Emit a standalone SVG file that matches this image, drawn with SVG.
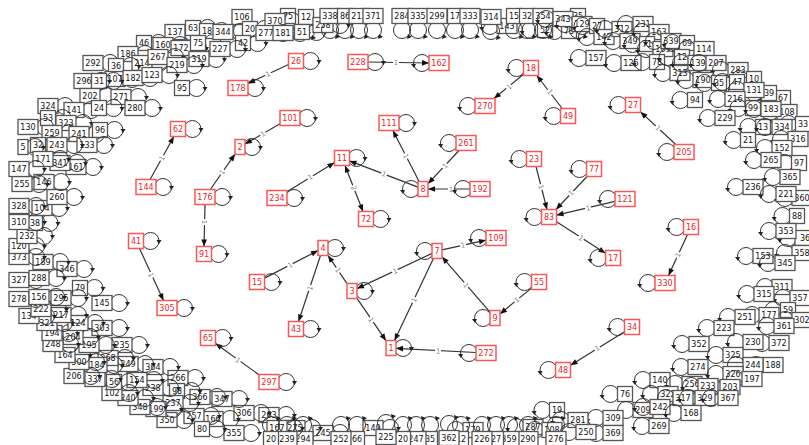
<svg xmlns="http://www.w3.org/2000/svg" xmlns:xlink="http://www.w3.org/1999/xlink" width="809" height="445" viewBox="0 0 809 445">
<style>
text{font-family:"DejaVu Sans","Liberation Sans",sans-serif;font-size:8px;text-anchor:middle}
.k rect{fill:#fff;stroke:#555;stroke-width:1.3}
.k text{fill:#111}
.r rect{fill:#fff;stroke:#f55;stroke-width:1.5}
.r text{fill:#e8262b}
.e line{stroke:#333;stroke-width:1.2;marker-end:url(#a)}
.lb rect{fill:#fff}
.lb text{fill:#7a8a9a;font-size:7px}
</style>
<defs>
<marker id="a" viewBox="0 0 10 10" refX="10" refY="5" markerWidth="8" markerHeight="7" markerUnits="userSpaceOnUse" orient="auto-start-reverse"><path d="M0,1 L10,5 L0,9z" fill="#111"/></marker>
<g id="R1"><circle cx="12" r="8.5" fill="none" stroke="#333"/><path d="M18,-1 L23,-1 L20.5,3z" fill="#222"/></g>
<g id="R2"><circle cx="14.5" r="8.5" fill="none" stroke="#333"/><path d="M20.5,-1 L25.5,-1 L23,3z" fill="#222"/></g>
<g id="R3"><circle cx="17" r="8.5" fill="none" stroke="#333"/><path d="M23,-1 L28,-1 L25.5,3z" fill="#222"/></g>
<g id="L1"><circle cx="-12" r="8.5" fill="none" stroke="#333"/><path d="M-18,1 L-23,1 L-20,5z" fill="#222"/></g>
<g id="L2"><circle cx="-14.5" r="8.5" fill="none" stroke="#333"/><path d="M-20.5,1 L-25.5,1 L-22.5,5z" fill="#222"/></g>
<g id="L3"><circle cx="-17" r="8.5" fill="none" stroke="#333"/><path d="M-23,1 L-28,1 L-25,5z" fill="#222"/></g>
<g id="D"><circle cy="14" r="8.5" fill="none" stroke="#333"/><path d="M6,18 L10,21 L5,23z" fill="#222"/></g>
<g id="U"><circle cy="-14" r="8.5" fill="none" stroke="#333"/><path d="M6,-18 L10,-21 L5,-23z" fill="#222"/></g>
</defs>

<g id="ring">
<g id="n137" class="k" transform="translate(175,32)"><use href="#R3"/><rect x="-10" y="-7.5" width="20" height="15"/><text y="3">137</text></g>
<g id="n63" class="k" transform="translate(193,28)"><use href="#R2"/><rect x="-7.5" y="-7.5" width="15" height="15"/><text y="3">63</text></g>
<g id="n18b" class="k" transform="translate(207,31)"><use href="#R2"/><rect x="-7.5" y="-7.5" width="15" height="15"/><text y="3">18</text></g>
<g id="n46" class="k" transform="translate(144,43)"><use href="#R2"/><rect x="-7.5" y="-7.5" width="15" height="15"/><text y="3">46</text></g>
<g id="n160" class="k" transform="translate(163,45)"><use href="#R3"/><rect x="-10" y="-7.5" width="20" height="15"/><text y="3">160</text></g>
<g id="n172" class="k" transform="translate(181,48)"><use href="#R3"/><rect x="-10" y="-7.5" width="20" height="15"/><text y="3">172</text></g>
<g id="n75" class="k" transform="translate(198,43)"><use href="#R2"/><rect x="-7.5" y="-7.5" width="15" height="15"/><text y="3">75</text></g>
<g id="n319" class="k" transform="translate(199,59)"><use href="#R3"/><rect x="-10" y="-7.5" width="20" height="15"/><text y="3">319</text></g>
<g id="n186" class="k" transform="translate(128,54)"><use href="#R3"/><rect x="-10" y="-7.5" width="20" height="15"/><text y="3">186</text></g>
<g id="n214" class="k" transform="translate(142,63)"><use href="#R3"/><rect x="-10" y="-7.5" width="20" height="15"/><text y="3">214</text></g>
<g id="n267" class="k" transform="translate(158,57)"><use href="#R3"/><rect x="-10" y="-7.5" width="20" height="15"/><text y="3">267</text></g>
<g id="n219" class="k" transform="translate(177,65)"><use href="#R3"/><rect x="-10" y="-7.5" width="20" height="15"/><text y="3">219</text></g>
<g id="n292" class="k" transform="translate(93,63)"><use href="#R3"/><rect x="-10" y="-7.5" width="20" height="15"/><text y="3">292</text></g>
<g id="n36" class="k" transform="translate(116,66)"><use href="#R2"/><rect x="-7.5" y="-7.5" width="15" height="15"/><text y="3">36</text></g>
<g id="n107" class="k" transform="translate(115,79)"><use href="#R3"/><rect x="-10" y="-7.5" width="20" height="15"/><text y="3">107</text></g>
<g id="n182" class="k" transform="translate(133,78)"><use href="#R3"/><rect x="-10" y="-7.5" width="20" height="15"/><text y="3">182</text></g>
<g id="n123" class="k" transform="translate(152,75)"><use href="#R3"/><rect x="-10" y="-7.5" width="20" height="15"/><text y="3">123</text></g>
<g id="n95" class="k" transform="translate(182,88)"><use href="#R2"/><rect x="-7.5" y="-7.5" width="15" height="15"/><text y="3">95</text></g>
<g id="n296" class="k" transform="translate(84,81)"><use href="#R3"/><rect x="-10" y="-7.5" width="20" height="15"/><text y="3">296</text></g>
<g id="n31" class="k" transform="translate(99,81)"><use href="#R2"/><rect x="-7.5" y="-7.5" width="15" height="15"/><text y="3">31</text></g>
<g id="n202" class="k" transform="translate(90,96)"><use href="#R3"/><rect x="-10" y="-7.5" width="20" height="15"/><text y="3">202</text></g>
<g id="n271" class="k" transform="translate(121,97)"><use href="#R3"/><rect x="-10" y="-7.5" width="20" height="15"/><text y="3">271</text></g>
<g id="n280" class="k" transform="translate(135,108)"><use href="#R3"/><rect x="-10" y="-7.5" width="20" height="15"/><text y="3">280</text></g>
<g id="n324" class="k" transform="translate(48,106)"><use href="#R3"/><rect x="-10" y="-7.5" width="20" height="15"/><text y="3">324</text></g>
<g id="n141" class="k" transform="translate(74,110)"><use href="#R3"/><rect x="-10" y="-7.5" width="20" height="15"/><text y="3">141</text></g>
<g id="n24" class="k" transform="translate(99,108)"><use href="#R2"/><rect x="-7.5" y="-7.5" width="15" height="15"/><text y="3">24</text></g>
<g id="n53" class="k" transform="translate(48,118)"><use href="#R2"/><rect x="-7.5" y="-7.5" width="15" height="15"/><text y="3">53</text></g>
<g id="n323" class="k" transform="translate(66,123)"><use href="#R3"/><rect x="-10" y="-7.5" width="20" height="15"/><text y="3">323</text></g>
<g id="n130" class="k" transform="translate(28,127)"><use href="#R3"/><rect x="-10" y="-7.5" width="20" height="15"/><text y="3">130</text></g>
<g id="n259" class="k" transform="translate(52,133)"><use href="#R3"/><rect x="-10" y="-7.5" width="20" height="15"/><text y="3">259</text></g>
<g id="n241" class="k" transform="translate(79,134)"><use href="#R3"/><rect x="-10" y="-7.5" width="20" height="15"/><text y="3">241</text></g>
<g id="n96" class="k" transform="translate(100,130)"><use href="#R2"/><rect x="-7.5" y="-7.5" width="15" height="15"/><text y="3">96</text></g>
<g id="n133" class="k" transform="translate(87,145)"><use href="#R3"/><rect x="-10" y="-7.5" width="20" height="15"/><text y="3">133</text></g>
<g id="n32" class="k" transform="translate(38,145)"><use href="#R2"/><rect x="-7.5" y="-7.5" width="15" height="15"/><text y="3">32</text></g>
<g id="n243" class="k" transform="translate(57,145)"><use href="#R3"/><rect x="-10" y="-7.5" width="20" height="15"/><text y="3">243</text></g>
<g id="n5" class="k" transform="translate(23,147)"><use href="#R1"/><rect x="-5" y="-7.5" width="10" height="15"/><text y="3">5</text></g>

<g id="n106" class="k" transform="translate(242,17)"><use href="#D"/><rect x="-10" y="-7.5" width="20" height="15"/><text y="3">106</text></g>
<g id="n344" class="k" transform="translate(223,32)"><use href="#R3"/><rect x="-10" y="-7.5" width="20" height="15"/><text y="3">344</text></g>
<g id="n20" class="k" transform="translate(250,29)"><use href="#R2"/><rect x="-7.5" y="-7.5" width="15" height="15"/><text y="3">20</text></g>
<g id="n42" class="k" transform="translate(243,43)"><use href="#R2"/><rect x="-7.5" y="-7.5" width="15" height="15"/><text y="3">42</text></g>
<g id="n227" class="k" transform="translate(220,49)"><use href="#R3"/><rect x="-10" y="-7.5" width="20" height="15"/><text y="3">227</text></g>
<g id="n75b" class="k" transform="translate(288,16)"><use href="#D"/><rect x="-7.5" y="-7.5" width="15" height="15"/><text y="3">75</text></g>
<g id="n370" class="k" transform="translate(275,21)"><use href="#R3"/><rect x="-10" y="-7.5" width="20" height="15"/><text y="3">370</text></g>
<g id="n277" class="k" transform="translate(266,33)"><use href="#R3"/><rect x="-10" y="-7.5" width="20" height="15"/><text y="3">277</text></g>
<g id="n181" class="k" transform="translate(283,33)"><use href="#R3"/><rect x="-10" y="-7.5" width="20" height="15"/><text y="3">181</text></g>
<g id="n12" class="k" transform="translate(306,17)"><use href="#D"/><rect x="-7.5" y="-7.5" width="15" height="15"/><text y="3">12</text></g>
<g id="n51" class="k" transform="translate(302,32)"><use href="#R2"/><rect x="-7.5" y="-7.5" width="15" height="15"/><text y="3">51</text></g>
<g id="n258" class="k" transform="translate(323,25)"><use href="#R3"/><rect x="-10" y="-7.5" width="20" height="15"/><text y="3">258</text></g>
<g id="n338" class="k" transform="translate(330,16)"><use href="#D"/><rect x="-10" y="-7.5" width="20" height="15"/><text y="3">338</text></g>
<g id="n86" class="k" transform="translate(345,16)"><use href="#D"/><rect x="-7.5" y="-7.5" width="15" height="15"/><text y="3">86</text></g>
<g id="n213" class="k" transform="translate(359,16)"><use href="#D"/><rect x="-10" y="-7.5" width="20" height="15"/><text y="3">213</text></g>
<g id="n371" class="k" transform="translate(373,16)"><use href="#D"/><rect x="-10" y="-7.5" width="20" height="15"/><text y="3">371</text></g>
<g id="n284" class="k" transform="translate(402,16)"><use href="#D"/><rect x="-10" y="-7.5" width="20" height="15"/><text y="3">284</text></g>
<g id="n335" class="k" transform="translate(418,16)"><use href="#D"/><rect x="-10" y="-7.5" width="20" height="15"/><text y="3">335</text></g>
<g id="n299" class="k" transform="translate(437,16)"><use href="#D"/><rect x="-10" y="-7.5" width="20" height="15"/><text y="3">299</text></g>
<g id="n17" class="k" transform="translate(455,16)"><use href="#D"/><rect x="-7.5" y="-7.5" width="15" height="15"/><text y="3">17</text></g>
<g id="n333" class="k" transform="translate(470,16)"><use href="#D"/><rect x="-10" y="-7.5" width="20" height="15"/><text y="3">333</text></g>
<g id="n143" class="k" transform="translate(507,26)"><use href="#L3"/><rect x="-10" y="-7.5" width="20" height="15"/><text y="3">143</text></g>
<g id="n314" class="k" transform="translate(491,17)"><use href="#D"/><rect x="-10" y="-7.5" width="20" height="15"/><text y="3">314</text></g>
<g id="n15b" class="k" transform="translate(514,16)"><use href="#D"/><rect x="-7.5" y="-7.5" width="15" height="15"/><text y="3">15</text></g>
<g id="n52" class="k" transform="translate(545,30)"><use href="#L2"/><rect x="-7.5" y="-7.5" width="15" height="15"/><text y="3">52</text></g>
<g id="n32b" class="k" transform="translate(527,16)"><use href="#D"/><rect x="-7.5" y="-7.5" width="15" height="15"/><text y="3">32</text></g>
<g id="n354" class="k" transform="translate(543,16)"><use href="#D"/><rect x="-10" y="-7.5" width="20" height="15"/><text y="3">354</text></g>
<g id="n73" class="k" transform="translate(569,31)"><use href="#L2"/><rect x="-7.5" y="-7.5" width="15" height="15"/><text y="3">73</text></g>
<g id="n35" class="k" transform="translate(578,16)"><use href="#D"/><rect x="-7.5" y="-7.5" width="15" height="15"/><text y="3">35</text></g>
<g id="n343" class="k" transform="translate(563,19)"><use href="#L3"/><rect x="-10" y="-7.5" width="20" height="15"/><text y="3">343</text></g>
<g id="n129" class="k" transform="translate(582,24)"><use href="#L3"/><rect x="-10" y="-7.5" width="20" height="15"/><text y="3">129</text></g>
<g id="n27b" class="k" transform="translate(597,26)"><use href="#L2"/><rect x="-7.5" y="-7.5" width="15" height="15"/><text y="3">27</text></g>
<g id="n142" class="k" transform="translate(604,37)"><use href="#L3"/><rect x="-10" y="-7.5" width="20" height="15"/><text y="3">142</text></g>
<g id="n157" class="k" transform="translate(596,58)"><use href="#L3"/><rect x="-10" y="-7.5" width="20" height="15"/><text y="3">157</text></g>

<g id="n312" class="k" transform="translate(622,29)"><use href="#L3"/><rect x="-10" y="-7.5" width="20" height="15"/><text y="3">312</text></g>
<g id="n231" class="k" transform="translate(643,24)"><use href="#L3"/><rect x="-10" y="-7.5" width="20" height="15"/><text y="3">231</text></g>
<g id="n349" class="k" transform="translate(630,41)"><use href="#L3"/><rect x="-10" y="-7.5" width="20" height="15"/><text y="3">349</text></g>
<g id="n163" class="k" transform="translate(659,32)"><use href="#L3"/><rect x="-10" y="-7.5" width="20" height="15"/><text y="3">163</text></g>
<g id="n71" class="k" transform="translate(647,44)"><use href="#L2"/><rect x="-7.5" y="-7.5" width="15" height="15"/><text y="3">71</text></g>
<g id="n126" class="k" transform="translate(631,63)"><use href="#L3"/><rect x="-10" y="-7.5" width="20" height="15"/><text y="3">126</text></g>
<g id="n109b" class="k" transform="translate(663,49)"><use href="#L3"/><rect x="-10" y="-7.5" width="20" height="15"/><text y="3">109</text></g>
<g id="n339" class="k" transform="translate(671,41)"><use href="#L3"/><rect x="-10" y="-7.5" width="20" height="15"/><text y="3">339</text></g>
<g id="n69" class="k" transform="translate(687,43)"><use href="#L2"/><rect x="-7.5" y="-7.5" width="15" height="15"/><text y="3">69</text></g>
<g id="n78" class="k" transform="translate(657,62)"><use href="#L2"/><rect x="-7.5" y="-7.5" width="15" height="15"/><text y="3">78</text></g>
<g id="n114" class="k" transform="translate(704,49)"><use href="#L3"/><rect x="-10" y="-7.5" width="20" height="15"/><text y="3">114</text></g>
<g id="n12b" class="k" transform="translate(682,57)"><use href="#L2"/><rect x="-7.5" y="-7.5" width="15" height="15"/><text y="3">12</text></g>
<g id="n313" class="k" transform="translate(680,73)"><use href="#L3"/><rect x="-10" y="-7.5" width="20" height="15"/><text y="3">313</text></g>
<g id="n139" class="k" transform="translate(698,63)"><use href="#L3"/><rect x="-10" y="-7.5" width="20" height="15"/><text y="3">139</text></g>
<g id="n207" class="k" transform="translate(716,63)"><use href="#L3"/><rect x="-10" y="-7.5" width="20" height="15"/><text y="3">207</text></g>
<g id="n283" class="k" transform="translate(738,70)"><use href="#L3"/><rect x="-10" y="-7.5" width="20" height="15"/><text y="3">283</text></g>
<g id="n190" class="k" transform="translate(703,80)"><use href="#L3"/><rect x="-10" y="-7.5" width="20" height="15"/><text y="3">190</text></g>
<g id="n35b" class="k" transform="translate(719,83)"><use href="#L2"/><rect x="-7.5" y="-7.5" width="15" height="15"/><text y="3">35</text></g>
<g id="n10" class="k" transform="translate(754,79)"><use href="#L2"/><rect x="-7.5" y="-7.5" width="15" height="15"/><text y="3">10</text></g>
<g id="n47" class="k" transform="translate(737,82)"><use href="#L2"/><rect x="-7.5" y="-7.5" width="15" height="15"/><text y="3">47</text></g>
<g id="n67" class="k" transform="translate(783,98)"><use href="#L2"/><rect x="-7.5" y="-7.5" width="15" height="15"/><text y="3">67</text></g>
<g id="n39" class="k" transform="translate(769,93)"><use href="#L2"/><rect x="-7.5" y="-7.5" width="15" height="15"/><text y="3">39</text></g>
<g id="n131" class="k" transform="translate(754,90)"><use href="#L3"/><rect x="-10" y="-7.5" width="20" height="15"/><text y="3">131</text></g>
<g id="n94" class="k" transform="translate(695,100)"><use href="#L2"/><rect x="-7.5" y="-7.5" width="15" height="15"/><text y="3">94</text></g>
<g id="n216" class="k" transform="translate(735,99)"><use href="#L3"/><rect x="-10" y="-7.5" width="20" height="15"/><text y="3">216</text></g>
<g id="n108" class="k" transform="translate(787,112)"><use href="#L3"/><rect x="-10" y="-7.5" width="20" height="15"/><text y="3">108</text></g>
<g id="n99" class="k" transform="translate(753,108)"><use href="#L2"/><rect x="-7.5" y="-7.5" width="15" height="15"/><text y="3">99</text></g>
<g id="n183" class="k" transform="translate(771,109)"><use href="#L3"/><rect x="-10" y="-7.5" width="20" height="15"/><text y="3">183</text></g>
<g id="n229" class="k" transform="translate(725,118)"><use href="#L3"/><rect x="-10" y="-7.5" width="20" height="15"/><text y="3">229</text></g>
<g id="n33" class="k" transform="translate(803,124)"><use href="#L2"/><rect x="-7.5" y="-7.5" width="15" height="15"/><text y="3">33</text></g>
<g id="n13" class="k" transform="translate(763,127)"><use href="#L2"/><rect x="-7.5" y="-7.5" width="15" height="15"/><text y="3">13</text></g>
<g id="n334" class="k" transform="translate(782,127)"><use href="#L3"/><rect x="-10" y="-7.5" width="20" height="15"/><text y="3">334</text></g>
<g id="n316" class="k" transform="translate(798,139)"><use href="#L3"/><rect x="-10" y="-7.5" width="20" height="15"/><text y="3">316</text></g>
<g id="n21" class="k" transform="translate(748,140)"><use href="#L2"/><rect x="-7.5" y="-7.5" width="15" height="15"/><text y="3">21</text></g>
<g id="n152" class="k" transform="translate(782,148)"><use href="#L3"/><rect x="-10" y="-7.5" width="20" height="15"/><text y="3">152</text></g>

<g id="n97" class="k" transform="translate(799,163)"><use href="#L2"/><rect x="-7.5" y="-7.5" width="15" height="15"/><text y="3">97</text></g>
<g id="n265" class="k" transform="translate(771,160)"><use href="#L3"/><rect x="-10" y="-7.5" width="20" height="15"/><text y="3">265</text></g>
<g id="n365" class="k" transform="translate(790,177)"><use href="#L3"/><rect x="-10" y="-7.5" width="20" height="15"/><text y="3">365</text></g>
<g id="n236" class="k" transform="translate(753,187)"><use href="#L3"/><rect x="-10" y="-7.5" width="20" height="15"/><text y="3">236</text></g>
<g id="n360" class="k" transform="translate(802,198)"><use href="#L3"/><rect x="-10" y="-7.5" width="20" height="15"/><text y="3">360</text></g>
<g id="n221" class="k" transform="translate(786,194)"><use href="#L3"/><rect x="-10" y="-7.5" width="20" height="15"/><text y="3">221</text></g>
<g id="n88" class="k" transform="translate(797,216)"><use href="#L2"/><rect x="-7.5" y="-7.5" width="15" height="15"/><text y="3">88</text></g>
<g id="n36b" class="k" transform="translate(805,238)"><use href="#L3"/><rect x="-10" y="-7.5" width="20" height="15"/><text y="3">36</text></g>
<g id="n353" class="k" transform="translate(786,231)"><use href="#L3"/><rect x="-10" y="-7.5" width="20" height="15"/><text y="3">353</text></g>
<g id="n358" class="k" transform="translate(802,253)"><use href="#L3"/><rect x="-10" y="-7.5" width="20" height="15"/><text y="3">358</text></g>
<g id="n153" class="k" transform="translate(763,256)"><use href="#L3"/><rect x="-10" y="-7.5" width="20" height="15"/><text y="3">153</text></g>
<g id="n345" class="k" transform="translate(785,263)"><use href="#L3"/><rect x="-10" y="-7.5" width="20" height="15"/><text y="3">345</text></g>
<g id="n311" class="k" transform="translate(782,287)"><use href="#L3"/><rect x="-10" y="-7.5" width="20" height="15"/><text y="3">311</text></g>
<g id="n357" class="k" transform="translate(800,298)"><use href="#L3"/><rect x="-10" y="-7.5" width="20" height="15"/><text y="3">357</text></g>
<g id="n315" class="k" transform="translate(764,294)"><use href="#L3"/><rect x="-10" y="-7.5" width="20" height="15"/><text y="3">315</text></g>

<g id="n59" class="k" transform="translate(788,310)"><use href="#L2"/><rect x="-7.5" y="-7.5" width="15" height="15"/><text y="3">59</text></g>
<g id="n302" class="k" transform="translate(802,320)"><use href="#L3"/><rect x="-10" y="-7.5" width="20" height="15"/><text y="3">302</text></g>
<g id="n177" class="k" transform="translate(769,315)"><use href="#L3"/><rect x="-10" y="-7.5" width="20" height="15"/><text y="3">177</text></g>
<g id="n251" class="k" transform="translate(745,317)"><use href="#L3"/><rect x="-10" y="-7.5" width="20" height="15"/><text y="3">251</text></g>
<g id="n361" class="k" transform="translate(784,326)"><use href="#L3"/><rect x="-10" y="-7.5" width="20" height="15"/><text y="3">361</text></g>
<g id="n223" class="k" transform="translate(724,328)"><use href="#L3"/><rect x="-10" y="-7.5" width="20" height="15"/><text y="3">223</text></g>
<g id="n372" class="k" transform="translate(779,343)"><use href="#L3"/><rect x="-10" y="-7.5" width="20" height="15"/><text y="3">372</text></g>
<g id="n230" class="k" transform="translate(753,342)"><use href="#L3"/><rect x="-10" y="-7.5" width="20" height="15"/><text y="3">230</text></g>
<g id="n352" class="k" transform="translate(699,344)"><use href="#L3"/><rect x="-10" y="-7.5" width="20" height="15"/><text y="3">352</text></g>
<g id="n325" class="k" transform="translate(733,355)"><use href="#L3"/><rect x="-10" y="-7.5" width="20" height="15"/><text y="3">325</text></g>
<g id="n188" class="k" transform="translate(773,365)"><use href="#L3"/><rect x="-10" y="-7.5" width="20" height="15"/><text y="3">188</text></g>
<g id="n244" class="k" transform="translate(753,365)"><use href="#L3"/><rect x="-10" y="-7.5" width="20" height="15"/><text y="3">244</text></g>
<g id="n274" class="k" transform="translate(698,367)"><use href="#L3"/><rect x="-10" y="-7.5" width="20" height="15"/><text y="3">274</text></g>
<g id="n326" class="k" transform="translate(733,374)"><use href="#L3"/><rect x="-10" y="-7.5" width="20" height="15"/><text y="3">326</text></g>
<g id="n197" class="k" transform="translate(752,379)"><use href="#L3"/><rect x="-10" y="-7.5" width="20" height="15"/><text y="3">197</text></g>
<g id="n140" class="k" transform="translate(660,380)"><use href="#L3"/><rect x="-10" y="-7.5" width="20" height="15"/><text y="3">140</text></g>
<g id="n203" class="k" transform="translate(730,387)"><use href="#L3"/><rect x="-10" y="-7.5" width="20" height="15"/><text y="3">203</text></g>
<g id="n256" class="k" transform="translate(692,384)"><use href="#L3"/><rect x="-10" y="-7.5" width="20" height="15"/><text y="3">256</text></g>
<g id="n233" class="k" transform="translate(708,386)"><use href="#L3"/><rect x="-10" y="-7.5" width="20" height="15"/><text y="3">233</text></g>
<g id="n76" class="k" transform="translate(625,394)"><use href="#L2"/><rect x="-7.5" y="-7.5" width="15" height="15"/><text y="3">76</text></g>
<g id="n322" class="k" transform="translate(668,394)"><use href="#L3"/><rect x="-10" y="-7.5" width="20" height="15"/><text y="3">322</text></g>
<g id="n317" class="k" transform="translate(683,398)"><use href="#L3"/><rect x="-10" y="-7.5" width="20" height="15"/><text y="3">317</text></g>
<g id="n329" class="k" transform="translate(705,398)"><use href="#L3"/><rect x="-10" y="-7.5" width="20" height="15"/><text y="3">329</text></g>
<g id="n367" class="k" transform="translate(728,398)"><use href="#L3"/><rect x="-10" y="-7.5" width="20" height="15"/><text y="3">367</text></g>
<g id="n209" class="k" transform="translate(643,410)"><use href="#L3"/><rect x="-10" y="-7.5" width="20" height="15"/><text y="3">209</text></g>
<g id="n242" class="k" transform="translate(660,407)"><use href="#L3"/><rect x="-10" y="-7.5" width="20" height="15"/><text y="3">242</text></g>
<g id="n168" class="k" transform="translate(691,413)"><use href="#L3"/><rect x="-10" y="-7.5" width="20" height="15"/><text y="3">168</text></g>
<g id="n309" class="k" transform="translate(613,418)"><use href="#L3"/><rect x="-10" y="-7.5" width="20" height="15"/><text y="3">309</text></g>
<g id="n269" class="k" transform="translate(659,426)"><use href="#L3"/><rect x="-10" y="-7.5" width="20" height="15"/><text y="3">269</text></g>
<g id="n369" class="k" transform="translate(613,433)"><use href="#L3"/><rect x="-10" y="-7.5" width="20" height="15"/><text y="3">369</text></g>
<g id="n19" class="k" transform="translate(557,410)"><use href="#L2"/><rect x="-7.5" y="-7.5" width="15" height="15"/><text y="3">19</text></g>
<g id="n281" class="k" transform="translate(578,420)"><use href="#L3"/><rect x="-10" y="-7.5" width="20" height="15"/><text y="3">281</text></g>
<g id="n287" class="k" transform="translate(533,427)"><use href="#L3"/><rect x="-10" y="-7.5" width="20" height="15"/><text y="3">287</text></g>
<g id="n108b" class="k" transform="translate(552,430)"><use href="#L3"/><rect x="-10" y="-7.5" width="20" height="15"/><text y="3">108</text></g>
<g id="n250" class="k" transform="translate(586,432)"><use href="#L3"/><rect x="-10" y="-7.5" width="20" height="15"/><text y="3">250</text></g>
<g id="n276" class="k" transform="translate(556,439)"><use href="#U"/><rect x="-10" y="-7.5" width="20" height="15"/><text y="3">276</text></g>
<g id="n290" class="k" transform="translate(528,439)"><use href="#U"/><rect x="-10" y="-7.5" width="20" height="15"/><text y="3">290</text></g>
<g id="n359" class="k" transform="translate(509,439)"><use href="#U"/><rect x="-10" y="-7.5" width="20" height="15"/><text y="3">359</text></g>
<g id="n179" class="k" transform="translate(473,430)"><use href="#L3"/><rect x="-10" y="-7.5" width="20" height="15"/><text y="3">179</text></g>
<g id="n27c" class="k" transform="translate(496,439)"><use href="#U"/><rect x="-7.5" y="-7.5" width="15" height="15"/><text y="3">27</text></g>
<g id="n226" class="k" transform="translate(482,439)"><use href="#U"/><rect x="-10" y="-7.5" width="20" height="15"/><text y="3">226</text></g>
<g id="n12c" class="k" transform="translate(461,439)"><use href="#U"/><rect x="-7.5" y="-7.5" width="15" height="15"/><text y="3">12</text></g>
<g id="n362" class="k" transform="translate(449,438)"><use href="#U"/><rect x="-10" y="-7.5" width="20" height="15"/><text y="3">362</text></g>
<g id="n35c" class="k" transform="translate(430,439)"><use href="#U"/><rect x="-7.5" y="-7.5" width="15" height="15"/><text y="3">35</text></g>
<g id="n247" class="k" transform="translate(416,439)"><use href="#U"/><rect x="-10" y="-7.5" width="20" height="15"/><text y="3">247</text></g>
<g id="n20b" class="k" transform="translate(403,439)"><use href="#U"/><rect x="-7.5" y="-7.5" width="15" height="15"/><text y="3">20</text></g>

<g id="n149" class="k" transform="translate(373,428)"><use href="#R3"/><rect x="-10" y="-7.5" width="20" height="15"/><text y="3">149</text></g>
<g id="n225" class="k" transform="translate(386,437)"><use href="#U"/><rect x="-10" y="-7.5" width="20" height="15"/><text y="3">225</text></g>
<g id="n66" class="k" transform="translate(357,439)"><use href="#U"/><rect x="-7.5" y="-7.5" width="15" height="15"/><text y="3">66</text></g>
<g id="n245" class="k" transform="translate(323,433)"><use href="#R3"/><rect x="-10" y="-7.5" width="20" height="15"/><text y="3">245</text></g>
<g id="n252" class="k" transform="translate(341,439)"><use href="#U"/><rect x="-10" y="-7.5" width="20" height="15"/><text y="3">252</text></g>
<g id="n275" class="k" transform="translate(295,428)"><use href="#R3"/><rect x="-10" y="-7.5" width="20" height="15"/><text y="3">275</text></g>
<g id="n294" class="k" transform="translate(303,439)"><use href="#U"/><rect x="-10" y="-7.5" width="20" height="15"/><text y="3">294</text></g>
<g id="n263" class="k" transform="translate(269,415)"><use href="#R3"/><rect x="-10" y="-7.5" width="20" height="15"/><text y="3">263</text></g>
<g id="n167" class="k" transform="translate(277,428)"><use href="#R3"/><rect x="-10" y="-7.5" width="20" height="15"/><text y="3">167</text></g>
<g id="n239" class="k" transform="translate(287,439)"><use href="#U"/><rect x="-10" y="-7.5" width="20" height="15"/><text y="3">239</text></g>
<g id="n20c" class="k" transform="translate(271,439)"><use href="#U"/><rect x="-7.5" y="-7.5" width="15" height="15"/><text y="3">20</text></g>
<g id="n306" class="k" transform="translate(244,413)"><use href="#R3"/><rect x="-10" y="-7.5" width="20" height="15"/><text y="3">306</text></g>
<g id="n347" class="k" transform="translate(222,399)"><use href="#R3"/><rect x="-10" y="-7.5" width="20" height="15"/><text y="3">347</text></g>
<g id="n166" class="k" transform="translate(213,419)"><use href="#R3"/><rect x="-10" y="-7.5" width="20" height="15"/><text y="3">166</text></g>
<g id="n355" class="k" transform="translate(234,433)"><use href="#R3"/><rect x="-10" y="-7.5" width="20" height="15"/><text y="3">355</text></g>
<g id="n366" class="k" transform="translate(200,397)"><use href="#R3"/><rect x="-10" y="-7.5" width="20" height="15"/><text y="3">366</text></g>
<g id="n257" class="k" transform="translate(194,416)"><use href="#R3"/><rect x="-10" y="-7.5" width="20" height="15"/><text y="3">257</text></g>
<g id="n80" class="k" transform="translate(202,429)"><use href="#R2"/><rect x="-7.5" y="-7.5" width="15" height="15"/><text y="3">80</text></g>
<g id="n266" class="k" transform="translate(178,378)"><use href="#R3"/><rect x="-10" y="-7.5" width="20" height="15"/><text y="3">266</text></g>
<g id="n98" class="k" transform="translate(177,391)"><use href="#R2"/><rect x="-7.5" y="-7.5" width="15" height="15"/><text y="3">98</text></g>
<g id="n237" class="k" transform="translate(173,403)"><use href="#R3"/><rect x="-10" y="-7.5" width="20" height="15"/><text y="3">237</text></g>
<g id="n350" class="k" transform="translate(167,420)"><use href="#R3"/><rect x="-10" y="-7.5" width="20" height="15"/><text y="3">350</text></g>
<g id="n199" class="k" transform="translate(156,409)"><use href="#R3"/><rect x="-10" y="-7.5" width="20" height="15"/><text y="3">199</text></g>
<g id="n304" class="k" transform="translate(153,367)"><use href="#R3"/><rect x="-10" y="-7.5" width="20" height="15"/><text y="3">304</text></g>
<g id="n238" class="k" transform="translate(153,388)"><use href="#R3"/><rect x="-10" y="-7.5" width="20" height="15"/><text y="3">238</text></g>
<g id="n348" class="k" transform="translate(140,407)"><use href="#R3"/><rect x="-10" y="-7.5" width="20" height="15"/><text y="3">348</text></g>
<g id="n154" class="k" transform="translate(137,380)"><use href="#R3"/><rect x="-10" y="-7.5" width="20" height="15"/><text y="3">154</text></g>
<g id="n240" class="k" transform="translate(128,398)"><use href="#R3"/><rect x="-10" y="-7.5" width="20" height="15"/><text y="3">240</text></g>
<g id="n102" class="k" transform="translate(112,393)"><use href="#R3"/><rect x="-10" y="-7.5" width="20" height="15"/><text y="3">102</text></g>
<g id="n56" class="k" transform="translate(114,382)"><use href="#R2"/><rect x="-7.5" y="-7.5" width="15" height="15"/><text y="3">56</text></g>
<g id="n235" class="k" transform="translate(122,345)"><use href="#R3"/><rect x="-10" y="-7.5" width="20" height="15"/><text y="3">235</text></g>
<g id="n249" class="k" transform="translate(128,364)"><use href="#R3"/><rect x="-10" y="-7.5" width="20" height="15"/><text y="3">249</text></g>
<g id="n268" class="k" transform="translate(108,358)"><use href="#R3"/><rect x="-10" y="-7.5" width="20" height="15"/><text y="3">268</text></g>
<g id="n337" class="k" transform="translate(95,379)"><use href="#R3"/><rect x="-10" y="-7.5" width="20" height="15"/><text y="3">337</text></g>
<g id="n184" class="k" transform="translate(97,365)"><use href="#R3"/><rect x="-10" y="-7.5" width="20" height="15"/><text y="3">184</text></g>
<g id="n206" class="k" transform="translate(74,376)"><use href="#R3"/><rect x="-10" y="-7.5" width="20" height="15"/><text y="3">206</text></g>
<g id="n300" class="k" transform="translate(79,362)"><use href="#R3"/><rect x="-10" y="-7.5" width="20" height="15"/><text y="3">300</text></g>
<g id="n164" class="k" transform="translate(65,355)"><use href="#R3"/><rect x="-10" y="-7.5" width="20" height="15"/><text y="3">164</text></g>
<g id="n195" class="k" transform="translate(89,345)"><use href="#R3"/><rect x="-10" y="-7.5" width="20" height="15"/><text y="3">195</text></g>
<g id="n303" class="k" transform="translate(102,328)"><use href="#R3"/><rect x="-10" y="-7.5" width="20" height="15"/><text y="3">303</text></g>
<g id="n204" class="k" transform="translate(73,337)"><use href="#R3"/><rect x="-10" y="-7.5" width="20" height="15"/><text y="3">204</text></g>
<g id="n248" class="k" transform="translate(53,344)"><use href="#R3"/><rect x="-10" y="-7.5" width="20" height="15"/><text y="3">248</text></g>
<g id="n194" class="k" transform="translate(52,333)"><use href="#R3"/><rect x="-10" y="-7.5" width="20" height="15"/><text y="3">194</text></g>
<g id="n124" class="k" transform="translate(78,323)"><use href="#R3"/><rect x="-10" y="-7.5" width="20" height="15"/><text y="3">124</text></g>
<g id="n321" class="k" transform="translate(47,323)"><use href="#R3"/><rect x="-10" y="-7.5" width="20" height="15"/><text y="3">321</text></g>
<g id="n145" class="k" transform="translate(102,303)"><use href="#R3"/><rect x="-10" y="-7.5" width="20" height="15"/><text y="3">145</text></g>
<g id="n217" class="k" transform="translate(61,315)"><use href="#R3"/><rect x="-10" y="-7.5" width="20" height="15"/><text y="3">217</text></g>
<g id="n134" class="k" transform="translate(29,316)"><use href="#R3"/><rect x="-10" y="-7.5" width="20" height="15"/><text y="3">134</text></g>
<g id="n222" class="k" transform="translate(41,309)"><use href="#R3"/><rect x="-10" y="-7.5" width="20" height="15"/><text y="3">222</text></g>
<g id="n79" class="k" transform="translate(80,288)"><use href="#R2"/><rect x="-7.5" y="-7.5" width="15" height="15"/><text y="3">79</text></g>
<g id="n295" class="k" transform="translate(61,298)"><use href="#R3"/><rect x="-10" y="-7.5" width="20" height="15"/><text y="3">295</text></g>
<g id="n278" class="k" transform="translate(19,299)"><use href="#R3"/><rect x="-10" y="-7.5" width="20" height="15"/><text y="3">278</text></g>
<g id="n156" class="k" transform="translate(39,297)"><use href="#R3"/><rect x="-10" y="-7.5" width="20" height="15"/><text y="3">156</text></g>
<g id="n346" class="k" transform="translate(67,269)"><use href="#R3"/><rect x="-10" y="-7.5" width="20" height="15"/><text y="3">346</text></g>
<g id="n327" class="k" transform="translate(19,280)"><use href="#R3"/><rect x="-10" y="-7.5" width="20" height="15"/><text y="3">327</text></g>
<g id="n288" class="k" transform="translate(39,278)"><use href="#R3"/><rect x="-10" y="-7.5" width="20" height="15"/><text y="3">288</text></g>
<g id="n189" class="k" transform="translate(43,262)"><use href="#R3"/><rect x="-10" y="-7.5" width="20" height="15"/><text y="3">189</text></g>
<g id="n373" class="k" transform="translate(19,257)"><use href="#R3"/><rect x="-10" y="-7.5" width="20" height="15"/><text y="3">373</text></g>
<g id="n120" class="k" transform="translate(19,246)"><use href="#R3"/><rect x="-10" y="-7.5" width="20" height="15"/><text y="3">120</text></g>
<g id="n232" class="k" transform="translate(27,236)"><use href="#R3"/><rect x="-10" y="-7.5" width="20" height="15"/><text y="3">232</text></g>
<g id="n38" class="k" transform="translate(35,223)"><use href="#R2"/><rect x="-7.5" y="-7.5" width="15" height="15"/><text y="3">38</text></g>
<g id="n310" class="k" transform="translate(19,222)"><use href="#R3"/><rect x="-10" y="-7.5" width="20" height="15"/><text y="3">310</text></g>
<g id="n104" class="k" transform="translate(42,208)"><use href="#R3"/><rect x="-10" y="-7.5" width="20" height="15"/><text y="3">104</text></g>
<g id="n328" class="k" transform="translate(19,206)"><use href="#R3"/><rect x="-10" y="-7.5" width="20" height="15"/><text y="3">328</text></g>
<g id="n260" class="k" transform="translate(57,197)"><use href="#R3"/><rect x="-10" y="-7.5" width="20" height="15"/><text y="3">260</text></g>
<g id="n146" class="k" transform="translate(44,182)"><use href="#R3"/><rect x="-10" y="-7.5" width="20" height="15"/><text y="3">146</text></g>
<g id="n255" class="k" transform="translate(22,184)"><use href="#R3"/><rect x="-10" y="-7.5" width="20" height="15"/><text y="3">255</text></g>
<g id="n161" class="k" transform="translate(76,167)"><use href="#R3"/><rect x="-10" y="-7.5" width="20" height="15"/><text y="3">161</text></g>
<g id="n341" class="k" transform="translate(60,163)"><use href="#R3"/><rect x="-10" y="-7.5" width="20" height="15"/><text y="3">341</text></g>
<g id="n171" class="k" transform="translate(43,159)"><use href="#R3"/><rect x="-10" y="-7.5" width="20" height="15"/><text y="3">171</text></g>
<g id="n147" class="k" transform="translate(19,169)"><use href="#R3"/><rect x="-10" y="-7.5" width="20" height="15"/><text y="3">147</text></g>
</g>

<g id="connectors" class="e">
<line x1="288.5" y1="64.5" x2="248" y2="83.4"/>
<line x1="368" y1="62" x2="429" y2="63"/>
<line x1="280" y1="123.8" x2="245" y2="144.1"/>
<line x1="150.1" y1="179.5" x2="173.9" y2="136.5"/>
<line x1="210.3" y1="189.5" x2="235" y2="154.1"/>
<line x1="205" y1="204.5" x2="204" y2="246.5"/>
<line x1="139.5" y1="248.5" x2="163.5" y2="300.5"/>
<line x1="287" y1="191.8" x2="334.5" y2="162.6"/>
<line x1="418" y1="187.1" x2="349.5" y2="160.9"/>
<line x1="345" y1="165.5" x2="363" y2="211.5" style="marker-start:url(#a)"/>
<line x1="419.1" y1="181.5" x2="392.9" y2="130.5"/>
<line x1="459" y1="150.5" x2="428" y2="183.7"/>
<line x1="470" y1="189" x2="428" y2="189"/>
<line x1="264.5" y1="278.1" x2="318" y2="250.6"/>
<line x1="320.5" y1="255.5" x2="298.5" y2="321.5"/>
<line x1="347" y1="283.6" x2="328" y2="255.4"/>
<line x1="357" y1="298.3" x2="386" y2="340.7"/>
<line x1="432" y1="253.4" x2="357" y2="288.6"/>
<line x1="442" y1="249.9" x2="486" y2="240.2"/>
<line x1="433.4" y1="258.5" x2="394.5" y2="340.5"/>
<line x1="490" y1="312.2" x2="442" y2="256.8"/>
<line x1="531.5" y1="288.1" x2="500" y2="313.9"/>
<line x1="476" y1="352.5" x2="396" y2="348.3"/>
<line x1="624.5" y1="331.7" x2="570.5" y2="365.3"/>
<line x1="687.5" y1="234.5" x2="668.5" y2="275.5"/>
<line x1="675.8" y1="144.5" x2="640.5" y2="111.9"/>
<line x1="562.2" y1="108.5" x2="536.8" y2="75.5"/>
<line x1="523.5" y1="74.2" x2="494" y2="98.5"/>
<line x1="536" y1="166.5" x2="547" y2="209.5"/>
<line x1="587" y1="176.5" x2="556" y2="209.5"/>
<line x1="615" y1="201.4" x2="556.5" y2="215.2"/>
<line x1="556.5" y1="221.8" x2="605.5" y2="253.2"/>
<line x1="259" y1="374.8" x2="215.5" y2="343.4"/>
</g>

<g id="edge-labels" class="lb">
<g transform="translate(268,74) rotate(-25)"><rect x="-3" y="-4" width="6" height="8"/><text y="2.5">1</text></g>
<g transform="translate(396,62)"><rect x="-3" y="-4" width="6" height="8"/><text y="2.5">1</text></g>
<g transform="translate(263,134) rotate(-30)"><rect x="-3" y="-4" width="6" height="8"/><text y="2.5">1</text></g>
<g transform="translate(162,158) rotate(-61)"><rect x="-3" y="-4" width="6" height="8"/><text y="2.5">1</text></g>
<g transform="translate(222,172) rotate(-55)"><rect x="-3" y="-4" width="6" height="8"/><text y="2.5">1</text></g>
<g transform="translate(204,222) rotate(90)"><rect x="-3" y="-4" width="6" height="8"/><text y="2.5">1</text></g>
<g transform="translate(151,275) rotate(65)"><rect x="-3" y="-4" width="6" height="8"/><text y="2.5">1</text></g>
<g transform="translate(310,177) rotate(-32)"><rect x="-3" y="-4" width="6" height="8"/><text y="2.5">1</text></g>
<g transform="translate(384,174) rotate(21)"><rect x="-3" y="-4" width="6" height="8"/><text y="2.5">1</text></g>
<g transform="translate(354,188) rotate(69)"><rect x="-3" y="-4" width="6" height="8"/><text y="2.5">2</text></g>
<g transform="translate(406,156) rotate(63)"><rect x="-3" y="-4" width="6" height="8"/><text y="2.5">1</text></g>
<g transform="translate(445,166) rotate(-47)"><rect x="-3" y="-4" width="6" height="8"/><text y="2.5">1</text></g>
<g transform="translate(451,189)"><rect x="-3" y="-4" width="6" height="8"/><text y="2.5">1</text></g>
<g transform="translate(290,265) rotate(-27)"><rect x="-3" y="-4" width="6" height="8"/><text y="2.5">1</text></g>
<g transform="translate(310,288) rotate(-72)"><rect x="-3" y="-4" width="6" height="8"/><text y="2.5">1</text></g>
<g transform="translate(338,270) rotate(56)"><rect x="-3" y="-4" width="6" height="8"/><text y="2.5">1</text></g>
<g transform="translate(371,320) rotate(56)"><rect x="-3" y="-4" width="6" height="8"/><text y="2.5">1</text></g>
<g transform="translate(395,271) rotate(-25)"><rect x="-3" y="-4" width="6" height="8"/><text y="2.5">1</text></g>
<g transform="translate(463,245) rotate(-12)"><rect x="-3" y="-4" width="6" height="8"/><text y="2.5">1</text></g>
<g transform="translate(414,300) rotate(-65)"><rect x="-3" y="-4" width="6" height="8"/><text y="2.5">1</text></g>
<g transform="translate(466,285) rotate(49)"><rect x="-3" y="-4" width="6" height="8"/><text y="2.5">1</text></g>
<g transform="translate(517,300) rotate(-39)"><rect x="-3" y="-4" width="6" height="8"/><text y="2.5">1</text></g>
<g transform="translate(438,351) rotate(3)"><rect x="-3" y="-4" width="6" height="8"/><text y="2.5">1</text></g>
<g transform="translate(597,348) rotate(-32)"><rect x="-3" y="-4" width="6" height="8"/><text y="2.5">1</text></g>
<g transform="translate(678,255) rotate(-65)"><rect x="-3" y="-4" width="6" height="8"/><text y="2.5">1</text></g>
<g transform="translate(658,128) rotate(43)"><rect x="-3" y="-4" width="6" height="8"/><text y="2.5">1</text></g>
<g transform="translate(550,92) rotate(52)"><rect x="-3" y="-4" width="6" height="8"/><text y="2.5">1</text></g>
<g transform="translate(509,87) rotate(-40)"><rect x="-3" y="-4" width="6" height="8"/><text y="2.5">1</text></g>
<g transform="translate(541,187) rotate(75)"><rect x="-3" y="-4" width="6" height="8"/><text y="2.5">1</text></g>
<g transform="translate(571,193) rotate(-47)"><rect x="-3" y="-4" width="6" height="8"/><text y="2.5">1</text></g>
<g transform="translate(588,208) rotate(-13)"><rect x="-3" y="-4" width="6" height="8"/><text y="2.5">1</text></g>
<g transform="translate(581,238) rotate(33)"><rect x="-3" y="-4" width="6" height="8"/><text y="2.5">1</text></g>
<g transform="translate(238,360) rotate(36)"><rect x="-3" y="-4" width="6" height="8"/><text y="2.5">1</text></g>
</g>

<g id="core">
<g id="n26" class="r" transform="translate(296,61)"><use href="#R2"/><rect x="-7.5" y="-7.5" width="15" height="15"/><text y="3">26</text></g>
<g id="n178" class="r" transform="translate(238,88)"><use href="#R3"/><rect x="-10" y="-7.5" width="20" height="15"/><text y="3">178</text></g>
<g id="n228" class="r" transform="translate(358,62)"><use href="#R3"/><rect x="-10" y="-7.5" width="20" height="15"/><text y="3">228</text></g>
<g id="n162" class="r" transform="translate(439,63)"><use href="#L3"/><rect x="-10" y="-7.5" width="20" height="15"/><text y="3">162</text></g>
<g id="n101" class="r" transform="translate(290,118)"><use href="#R3"/><rect x="-10" y="-7.5" width="20" height="15"/><text y="3">101</text></g>
<g id="n111" class="r" transform="translate(389,123)"><use href="#R3"/><rect x="-10" y="-7.5" width="20" height="15"/><text y="3">111</text></g>
<g id="n2" class="r" transform="translate(240,147)"><use href="#R1"/><rect x="-5" y="-7.5" width="10" height="15"/><text y="3">2</text></g>
<g id="n62" class="r" transform="translate(178,129)"><use href="#R2"/><rect x="-7.5" y="-7.5" width="15" height="15"/><text y="3">62</text></g>
<g id="n144" class="r" transform="translate(146,187)"><use href="#R3"/><rect x="-10" y="-7.5" width="20" height="15"/><text y="3">144</text></g>
<g id="n176" class="r" transform="translate(205,197)"><use href="#R3"/><rect x="-10" y="-7.5" width="20" height="15"/><text y="3">176</text></g>
<g id="n91" class="r" transform="translate(204,254)"><use href="#R2"/><rect x="-7.5" y="-7.5" width="15" height="15"/><text y="3">91</text></g>
<g id="n41" class="r" transform="translate(136,241)"><use href="#R2"/><rect x="-7.5" y="-7.5" width="15" height="15"/><text y="3">41</text></g>
<g id="n305" class="r" transform="translate(167,308)"><use href="#R3"/><rect x="-10" y="-7.5" width="20" height="15"/><text y="3">305</text></g>
<g id="n234" class="r" transform="translate(277,198)"><use href="#R3"/><rect x="-10" y="-7.5" width="20" height="15"/><text y="3">234</text></g>
<g id="n11" class="r" transform="translate(342,158)"><use href="#R2"/><rect x="-7.5" y="-7.5" width="15" height="15"/><text y="3">11</text></g>
<g id="n72" class="r" transform="translate(366,219)"><use href="#R2"/><rect x="-7.5" y="-7.5" width="15" height="15"/><text y="3">72</text></g>
<g id="n4" class="r" transform="translate(323,248)"><use href="#R1"/><rect x="-5" y="-7.5" width="10" height="15"/><text y="3">4</text></g>
<g id="n15" class="r" transform="translate(257,282)"><use href="#R2"/><rect x="-7.5" y="-7.5" width="15" height="15"/><text y="3">15</text></g>
<g id="n3" class="r" transform="translate(352,291)"><use href="#R1"/><rect x="-5" y="-7.5" width="10" height="15"/><text y="3">3</text></g>
<g id="n43" class="r" transform="translate(296,329)"><use href="#R2"/><rect x="-7.5" y="-7.5" width="15" height="15"/><text y="3">43</text></g>
<g id="n65" class="r" transform="translate(208,338)"><use href="#R2"/><rect x="-7.5" y="-7.5" width="15" height="15"/><text y="3">65</text></g>
<g id="n297" class="r" transform="translate(269,382)"><use href="#R3"/><rect x="-10" y="-7.5" width="20" height="15"/><text y="3">297</text></g>
<g id="n1" class="r" transform="translate(391,348)"><use href="#R1"/><rect x="-5" y="-7.5" width="10" height="15"/><text y="3">1</text></g>
<g id="n272" class="r" transform="translate(486,353)"><use href="#L3"/><rect x="-10" y="-7.5" width="20" height="15"/><text y="3">272</text></g>
<g id="n9" class="r" transform="translate(495,318)"><use href="#L1"/><rect x="-5" y="-7.5" width="10" height="15"/><text y="3">9</text></g>
<g id="n55" class="r" transform="translate(539,282)"><use href="#L2"/><rect x="-7.5" y="-7.5" width="15" height="15"/><text y="3">55</text></g>
<g id="n7" class="r" transform="translate(437,251)"><use href="#L1"/><rect x="-5" y="-7.5" width="10" height="15"/><text y="3">7</text></g>
<g id="n109" class="r" transform="translate(496,238)"><use href="#L3"/><rect x="-10" y="-7.5" width="20" height="15"/><text y="3">109</text></g>
<g id="n8" class="r" transform="translate(423,189)"><use href="#L1"/><rect x="-5" y="-7.5" width="10" height="15"/><text y="3">8</text></g>
<g id="n192" class="r" transform="translate(480,189)"><use href="#L3"/><rect x="-10" y="-7.5" width="20" height="15"/><text y="3">192</text></g>
<g id="n261" class="r" transform="translate(466,143)"><use href="#L3"/><rect x="-10" y="-7.5" width="20" height="15"/><text y="3">261</text></g>
<g id="n23" class="r" transform="translate(534,159)"><use href="#L2"/><rect x="-7.5" y="-7.5" width="15" height="15"/><text y="3">23</text></g>
<g id="n77" class="r" transform="translate(594,169)"><use href="#L2"/><rect x="-7.5" y="-7.5" width="15" height="15"/><text y="3">77</text></g>
<g id="n83" class="r" transform="translate(549,217)"><use href="#L2"/><rect x="-7.5" y="-7.5" width="15" height="15"/><text y="3">83</text></g>
<g id="n121" class="r" transform="translate(625,199)"><use href="#L3"/><rect x="-10" y="-7.5" width="20" height="15"/><text y="3">121</text></g>
<g id="n17r" class="r" transform="translate(613,258)"><use href="#L2"/><rect x="-7.5" y="-7.5" width="15" height="15"/><text y="3">17</text></g>
<g id="n18" class="r" transform="translate(531,68)"><use href="#L2"/><rect x="-7.5" y="-7.5" width="15" height="15"/><text y="3">18</text></g>
<g id="n270" class="r" transform="translate(485,106)"><use href="#L3"/><rect x="-10" y="-7.5" width="20" height="15"/><text y="3">270</text></g>
<g id="n49" class="r" transform="translate(568,116)"><use href="#L2"/><rect x="-7.5" y="-7.5" width="15" height="15"/><text y="3">49</text></g>
<g id="n27" class="r" transform="translate(633,105)"><use href="#L2"/><rect x="-7.5" y="-7.5" width="15" height="15"/><text y="3">27</text></g>
<g id="n205" class="r" transform="translate(684,152)"><use href="#L3"/><rect x="-10" y="-7.5" width="20" height="15"/><text y="3">205</text></g>
<g id="n16" class="r" transform="translate(691,227)"><use href="#L2"/><rect x="-7.5" y="-7.5" width="15" height="15"/><text y="3">16</text></g>
<g id="n330" class="r" transform="translate(665,283)"><use href="#L3"/><rect x="-10" y="-7.5" width="20" height="15"/><text y="3">330</text></g>
<g id="n34" class="r" transform="translate(632,327)"><use href="#L2"/><rect x="-7.5" y="-7.5" width="15" height="15"/><text y="3">34</text></g>
<g id="n48" class="r" transform="translate(563,370)"><use href="#L2"/><rect x="-7.5" y="-7.5" width="15" height="15"/><text y="3">48</text></g>
</g>
</svg>
